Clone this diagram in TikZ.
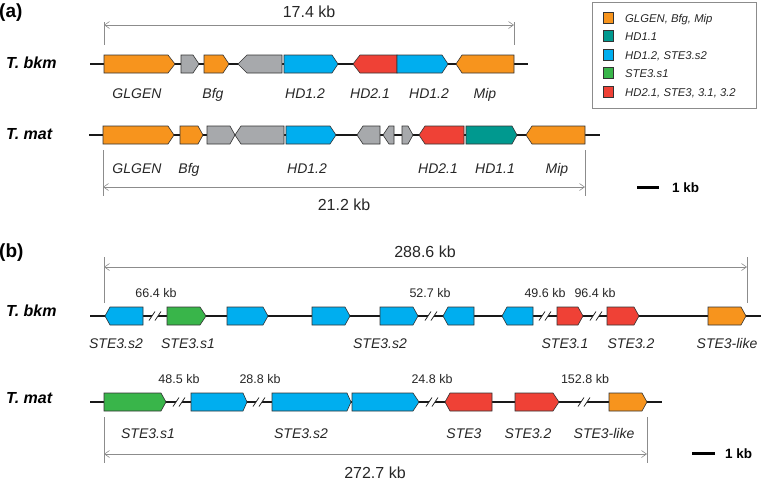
\documentclass[tikz,border=0pt]{standalone}
\usepackage{fontspec}
\setmainfont{Liberation Sans}
\usetikzlibrary{arrows.meta}
\definecolor{gorange}{HTML}{F7941D}
\definecolor{gteal}{HTML}{00998F}
\definecolor{gblue}{HTML}{00AEEF}
\definecolor{ggreen}{HTML}{39B54A}
\definecolor{gred}{HTML}{EF4136}
\definecolor{ggray}{HTML}{A7A9AC}
\definecolor{dimgray}{HTML}{8C8C8C}
\definecolor{txt}{HTML}{262626}
\newcommand\genF[5]{\filldraw[gene,fill=#1] (#2,#5-9) -- (#3,#5-9) -- (#4,#5) -- (#3,#5+9) -- (#2,#5+9) -- cycle;}
\newcommand\genR[5]{\filldraw[gene,fill=#1] (#2,#5) -- (#3,#5-9) -- (#4,#5-9) -- (#4,#5+9) -- (#3,#5+9) -- cycle;}
\newcommand\brk[2]{\fill[white] (#1-6,#2+4.5) -- (#1,#2+4.5) -- (#1+6,#2-4.5) -- (#1,#2-4.5) -- cycle;
  \draw[brkline] (#1-6,#2+4.5) -- (#1,#2-4.5) (#1,#2+4.5) -- (#1+6,#2-4.5);}
\tikzset{
  gene/.style={draw=black!80, line width=0.6pt, line join=miter},
  backbone/.style={draw=black!90, line width=1.3pt},
  brkline/.style={draw=black!85, line width=0.8pt},
  dim/.style={draw=dimgray, line width=0.6pt},
  dimarr/.style={dim, {Straight Barb[length=5pt,width=7pt]}-{Straight Barb[length=5pt,width=7pt]}},
  glabel/.style={font=\fontsize{14}{16}\selectfont\itshape, text=txt, anchor=base, inner sep=0pt},
  spname/.style={font=\fontsize{16}{18}\selectfont\bfseries\itshape, anchor=west, inner sep=0pt},
  panel/.style={font=\fontsize{19}{22}\selectfont\bfseries, anchor=west, inner sep=0pt},
  dimlab/.style={font=\fontsize{16}{18}\selectfont, text=txt, anchor=base, inner sep=0pt},
  gaplab/.style={font=\fontsize{12.5}{14}\selectfont, text=txt, anchor=base, inner sep=0pt},
  legtext/.style={font=\fontsize{11.3}{13}\selectfont\itshape, text=txt, anchor=base west, inner sep=0pt},
  scaletext/.style={font=\fontsize{13.5}{15}\selectfont\bfseries, anchor=base west, inner sep=0pt},
  scalebar/.style={draw=black, line width=3pt},
  swatch/.style={draw=black!80, line width=0.6pt}
}
\begin{document}
\begin{tikzpicture}[x=1pt,y=-1pt]
\useasboundingbox (0,0) rectangle (761,483);

% ---------- panel labels ----------
\node[panel] (pa) at (-1,13) {(a)};
\node[panel] (pb) at (-1,253) {(b)};

% ---------- species labels ----------
\node[spname] (s1) at (6,63) {T. bkm};
\node[spname] (s2) at (6,134) {T. mat};
\node[spname] (s3) at (6,311) {T. bkm};
\node[spname] (s4) at (6,398) {T. mat};

% ---------- legend ----------
\draw[draw=dimgray, line width=0.8pt] (592,2) rectangle (756,108);
\filldraw[swatch,fill=gorange] (603,12) rectangle (613,23);
\node[legtext] (l1) at (625,22) {GLGEN, Bfg, Mip};
\filldraw[swatch,fill=gteal] (603,30.5) rectangle (613,41.5);
\node[legtext] (l2) at (625,40.5) {HD1.1};
\filldraw[swatch,fill=gblue] (603,49) rectangle (613,60);
\node[legtext] (l3) at (625,59) {HD1.2, STE3.s2};
\filldraw[swatch,fill=ggreen] (603,67.5) rectangle (613,78.5);
\node[legtext] (l4) at (625,77.5) {STE3.s1};
\filldraw[swatch,fill=gred] (603,86) rectangle (613,97);
\node[legtext] (l5) at (625,96) {HD2.1, STE3, 3.1, 3.2};

% ================= panel (a) =================
% dimension 17.4 kb
\coordinate (aT1) at (104,22); \coordinate (aB1) at (104,45);
\coordinate (aT2) at (514,22); \coordinate (aB2) at (514,45);
\draw[dim] (aT1) -- (aB1) (aT2) -- (aB2);
\draw[dimarr] (104,25) -- (514,25);
\node[dimlab] (d1) at (309,17) {17.4 kb};

% T. bkm row
\coordinate (ab0) at (90,64); \coordinate (ab1) at (528,64);
\draw[backbone] (ab0) -- (ab1);
\genF{gorange}{104}{168}{175}{64}
\genF{ggray}{181}{193}{199}{64}
\genF{gorange}{204}{223}{229}{64}
\genR{ggray}{238}{247}{282}{64}
\genF{gblue}{284}{332}{338}{64}
\genR{gred}{353}{360}{397}{64}
\genF{gblue}{397}{442}{448}{64}
\genR{gorange}{456}{462}{514}{64}
\node[glabel] at (137,98) {GLGEN};
\node[glabel] at (213,98) {Bfg};
\node[glabel] at (305,98) {HD1.2};
\node[glabel] at (370,98) {HD2.1};
\node[glabel] at (429,98) {HD1.2};
\node[glabel] at (485,98) {Mip};

% T. mat row
\coordinate (am0) at (89,135); \coordinate (am1) at (600,135);
\draw[backbone] (am0) -- (am1);
\genF{gorange}{103}{168}{174}{135}
\genF{gorange}{180}{198}{203}{135}
\genF{ggray}{207}{230}{235}{135}
\genR{ggray}{235}{241}{284}{135}
\genF{gblue}{286}{330}{336}{135}
\genR{ggray}{357}{363}{380}{135}
\genR{ggray}{383}{389}{394}{135}
\genF{ggray}{402}{408}{413}{135}
\genR{gred}{419}{425}{464}{135}
\genF{gteal}{466}{512}{517}{135}
\genR{gorange}{526}{532}{585}{135}
\node[glabel] at (137,173) {GLGEN};
\node[glabel] at (189,173) {Bfg};
\node[glabel] at (307,173) {HD1.2};
\node[glabel] at (438,173) {HD2.1};
\node[glabel] at (495,173) {HD1.1};
\node[glabel] at (557,173) {Mip};

% dimension 21.2 kb
\coordinate (mT1) at (103,150); \coordinate (mB1) at (103,196);
\coordinate (mT2) at (585,150); \coordinate (mB2) at (585,196);
\draw[dim] (mT1) -- (mB1) (mT2) -- (mB2);
\draw[dimarr] (103,187) -- (585,187);
\node[dimlab] (d2) at (344,210) {21.2 kb};

% scale bar (a)
\coordinate (sa0) at (637,187); \coordinate (sa1) at (659,187);
\draw[scalebar] (sa0) -- (sa1);
\node[scaletext] (sat) at (672,192) {1 kb};

% ================= panel (b) =================
% dimension 288.6 kb
\coordinate (bT1) at (104,257); \coordinate (bB1) at (104,303);
\coordinate (bT2) at (747,257); \coordinate (bB2) at (747,303);
\draw[dim] (bT1) -- (bB1) (bT2) -- (bB2);
\draw[dimarr] (104,267) -- (747,267);
\node[dimlab] (d3) at (425,257) {288.6 kb};

% T. bkm row
\coordinate (bb0) at (90,316); \coordinate (bb1) at (761,316);
\draw[backbone] (bb0) -- (bb1);
\brk{155}{316} \brk{431}{316} \brk{545}{316} \brk{596}{316}
\genR{gblue}{105}{110}{143}{316}
\genF{ggreen}{167}{200}{206}{316}
\genF{gblue}{227}{263}{268}{316}
\genF{gblue}{312}{345}{350}{316}
\genF{gblue}{380}{413}{418}{316}
\genR{gblue}{443}{448}{474}{316}
\genR{gblue}{502}{507}{533}{316}
\genF{gred}{557}{578}{583}{316}
\genF{gred}{607}{634}{639}{316}
\genF{gorange}{708}{741}{746}{316}
\node[gaplab] at (156,297) {66.4 kb};
\node[gaplab] at (430,297) {52.7 kb};
\node[gaplab] at (545,297) {49.6 kb};
\node[gaplab] at (595,297) {96.4 kb};
\node[glabel] at (116,348) {STE3.s2};
\node[glabel] at (188,348) {STE3.s1};
\node[glabel] at (380,348) {STE3.s2};
\node[glabel] at (565,348) {STE3.1};
\node[glabel] at (631,348) {STE3.2};
\node[glabel] at (727,348) {STE3-like};

% T. mat row
\coordinate (bm0) at (90,402); \coordinate (bm1) at (662,402);
\draw[backbone] (bm0) -- (bm1);
\brk{179}{402} \brk{259}{402} \brk{432}{402} \brk{584}{402}
\genF{ggreen}{104}{161}{166}{402}
\genF{gblue}{191}{243}{247}{402}
\genF{gblue}{272}{347}{351}{402}
\genF{gblue}{352}{413}{419}{402}
\genR{gred}{445}{450}{492}{402}
\genF{gred}{515}{553}{559}{402}
\genF{gorange}{609}{642}{647}{402}
\node[gaplab] at (179,383) {48.5 kb};
\node[gaplab] at (260,383) {28.8 kb};
\node[gaplab] at (432,383) {24.8 kb};
\node[gaplab] at (585,383) {152.8 kb};
\node[glabel] at (148,438) {STE3.s1};
\node[glabel] at (301,438) {STE3.s2};
\node[glabel] at (464,438) {STE3};
\node[glabel] at (528,438) {STE3.2};
\node[glabel] at (604,438) {STE3-like};

% dimension 272.7 kb
\coordinate (cT1) at (104,417); \coordinate (cB1) at (104,463);
\coordinate (cT2) at (647,417); \coordinate (cB2) at (647,463);
\draw[dim] (cT1) -- (cB1) (cT2) -- (cB2);
\draw[dimarr] (104,454) -- (647,454);
\node[dimlab] (d4) at (375,478) {272.7 kb};

% scale bar (b)
\coordinate (sb0) at (692,453); \coordinate (sb1) at (715,453);
\draw[scalebar] (sb0) -- (sb1);
\node[scaletext] (sbt) at (725,458) {1 kb};
\end{tikzpicture}
\end{document}
